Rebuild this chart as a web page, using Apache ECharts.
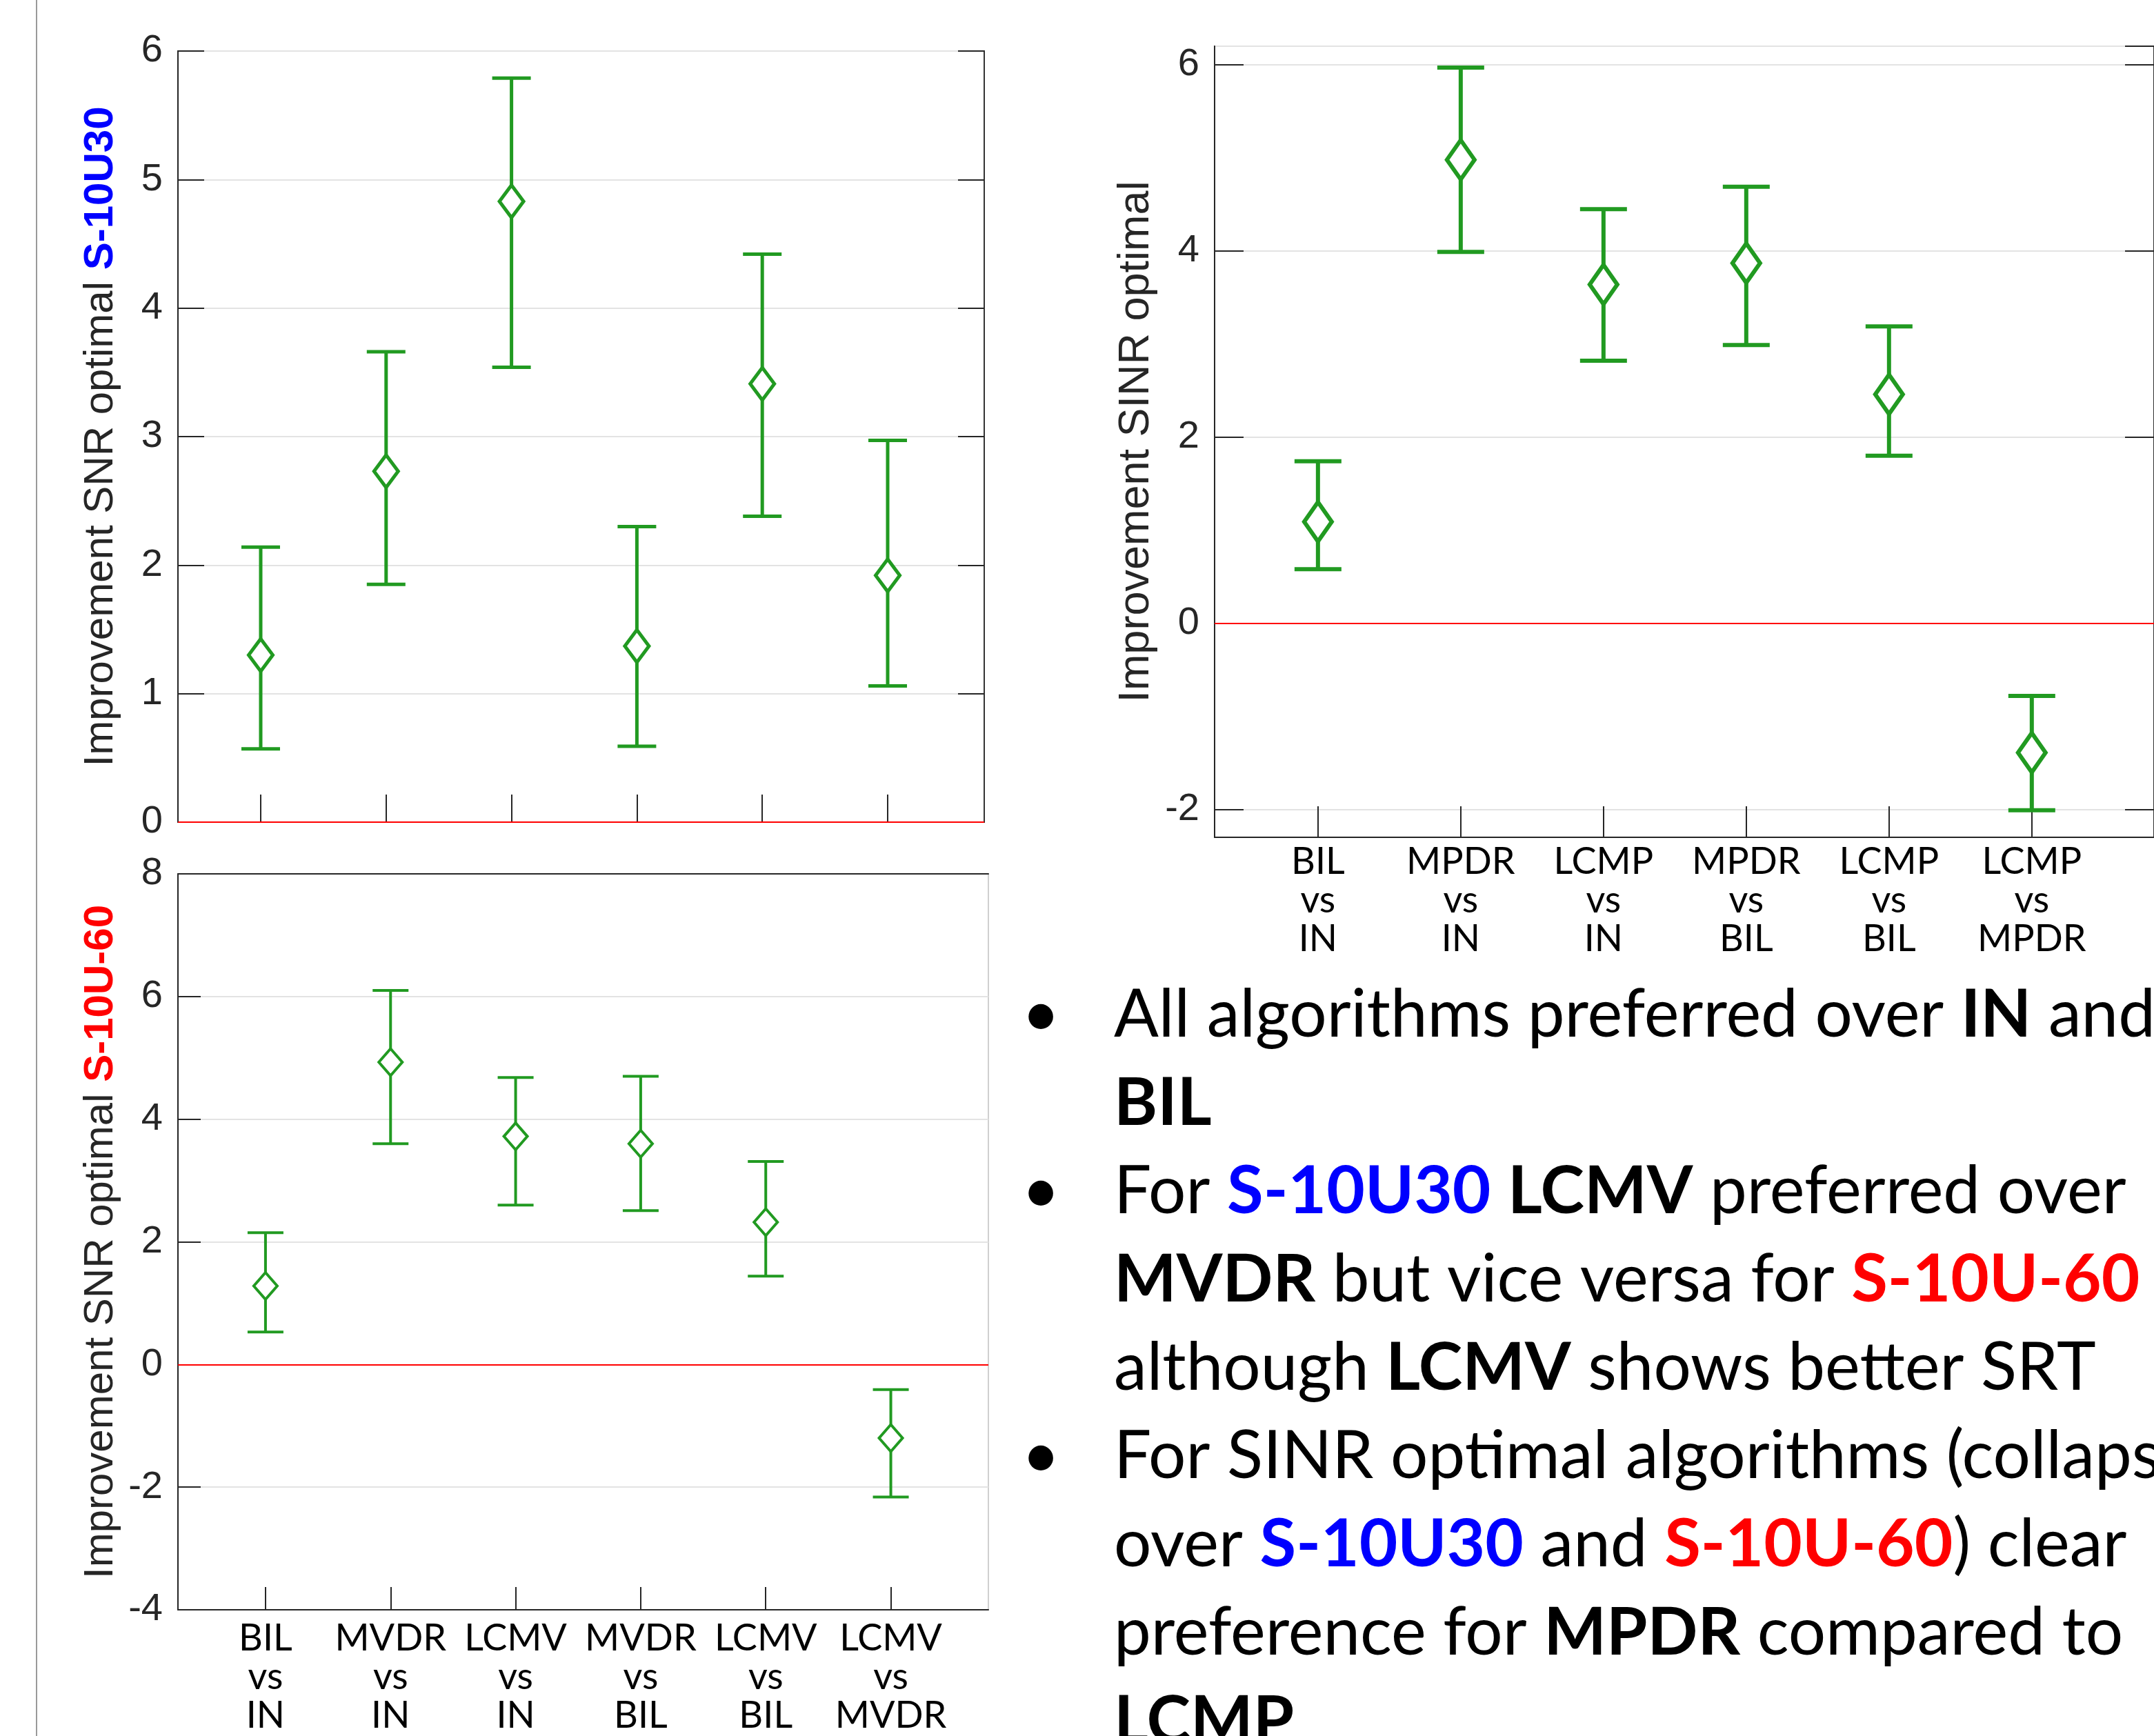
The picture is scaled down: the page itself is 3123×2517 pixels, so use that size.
<!DOCTYPE html>
<html>
<head>
<meta charset="utf-8">
<script src="https://cdn.jsdelivr.net/npm/echarts@6/dist/echarts.min.js"></script>
<style>
  html, body { margin: 0; padding: 0; background: #fff; }
  #chart { width: 3123px; height: 2517px; }
</style>
</head>
<body>
<div id="chart"></div>
<script>
// comparisons on each panel
const snrPairs = ['BIL\nvs\nIN', 'MVDR\nvs\nIN', 'LCMV\nvs\nIN', 'MVDR\nvs\nBIL', 'LCMV\nvs\nBIL', 'LCMV\nvs\nMVDR'];
const sinrPairs = ['BIL\nvs\nIN', 'MPDR\nvs\nIN', 'LCMP\nvs\nIN', 'MPDR\nvs\nBIL', 'LCMP\nvs\nBIL', 'LCMP\nvs\nMPDR'];

// S-10U30, SNR optimal
const s30Mean  = [1.30, 2.73, 4.83, 1.37, 3.41, 1.92];
const s30Lower = [0.57, 1.85, 3.54, 0.59, 2.38, 1.06];
const s30Upper = [2.14, 3.66, 5.79, 2.30, 4.42, 2.97];

// S-10U-60, SNR optimal
const s60Mean  = [1.28, 4.93, 3.72, 3.60, 2.32, -1.20];
const s60Lower = [0.53, 3.60, 2.60, 2.51, 1.44, -2.16];
const s60Upper = [2.15, 6.10, 4.68, 4.70, 3.31, -0.41];

// SINR optimal (collapsed)
const sinrMean  = [1.09, 4.98, 3.64, 3.87, 2.46, -1.39];
const sinrLower = [0.58, 3.99, 2.82, 2.99, 1.80, -2.01];
const sinrUpper = [1.74, 5.97, 4.45, 4.69, 3.19, -0.78];

const GREEN = '#219a21';
const AXIS = '#262626';
const NUMFONT = 'Liberation Sans';

function rows(lower, upper, mean) {
  return mean.map((m, i) => [i, lower[i], upper[i], m]);
}

function errorBars(capHalf, dw, dh, lw) {
  return function (params, api) {
    const x = api.value(0);
    const lo = api.coord([x, api.value(1)]);
    const hi = api.coord([x, api.value(2)]);
    const mid = api.coord([x, api.value(3)]);
    const st = {stroke: GREEN, lineWidth: lw, fill: null};
    return {
      type: 'group',
      children: [
        {type: 'line', shape: {x1: lo[0], y1: lo[1], x2: hi[0], y2: hi[1]}, style: st},
        {type: 'line', shape: {x1: hi[0] - capHalf, y1: hi[1], x2: hi[0] + capHalf, y2: hi[1]}, style: st},
        {type: 'line', shape: {x1: lo[0] - capHalf, y1: lo[1], x2: lo[0] + capHalf, y2: lo[1]}, style: st},
        {type: 'polygon', shape: {points: [
          [mid[0], mid[1] - dh], [mid[0] + dw, mid[1]], [mid[0], mid[1] + dh], [mid[0] - dw, mid[1]]
        ]}, style: {stroke: GREEN, lineWidth: lw, fill: '#fff'}}
      ]
    };
  };
}

function zeroLine() {
  return {
    silent: true,
    symbol: ['none', 'none'],
    label: {show: false},
    lineStyle: {color: '#ff0000', width: 2, type: 'solid'},
    data: [{yAxis: 0}]
  };
}

function xAxisFor(grid, labels, min, max, tickLen, showLabels, margin) {
  const idx = labels.map((_, i) => i);
  return {
    type: 'value', gridIndex: grid, min: min, max: max,
    axisLine: {show: true, onZero: false, lineStyle: {color: AXIS, width: 2}},
    axisTick: {show: true, inside: true, length: tickLen, customValues: idx, lineStyle: {color: AXIS, width: 2}},
    axisLabel: {
      show: showLabels, customValues: idx, margin: margin,
      formatter: v => labels[Math.round(v)],
      fontFamily: 'Lato', fontSize: 54, lineHeight: 56, color: '#000'
    },
    splitLine: {show: false}
  };
}

function yAxisFor(grid, opts) {
  const ax = {
    type: 'value', gridIndex: grid, min: opts.min, max: opts.max,
    axisLine: {show: true, onZero: false, lineStyle: {color: AXIS, width: 2}},
    axisTick: {show: true, inside: true, length: opts.tickLen, lineStyle: {color: AXIS, width: 2}},
    axisLabel: {show: true, margin: 22, fontFamily: NUMFONT, fontSize: 56, color: AXIS,
      showMinLabel: opts.edgeLabels, showMaxLabel: opts.edgeLabels},
    splitLine: {show: true, lineStyle: {color: '#e3e3e3', width: 2}},
    name: opts.name, nameLocation: 'middle', nameGap: opts.nameGap,
    nameTextStyle: {rich: opts.rich}
  };
  if (opts.interval) ax.interval = opts.interval; else ax.splitNumber = 4;
  return ax;
}

function rightTicks(grid, min, max, interval, tickLen) {
  const ax = {
    type: 'value', gridIndex: grid, position: 'right', min: min, max: max,
    axisLine: {show: false, onZero: false},
    axisTick: {show: true, inside: true, length: tickLen, lineStyle: {color: AXIS, width: 2}},
    axisLabel: {show: false},
    splitLine: {show: false}
  };
  if (interval) ax.interval = interval; else ax.splitNumber = 4;
  return ax;
}

const nameRich = (size, color) => ({
  a: {fontFamily: NUMFONT, fontSize: size, color: AXIS},
  b: {fontFamily: NUMFONT, fontSize: size, fontWeight: 'bold', color: color}
});

// bullet text on the right, lower part
const bulletLines = [
  '{n|All algorithms preferred over }{b|IN}{n| and}',
  '{b|BIL}',
  '{n|For }{bl|S-10U30}{n| }{b|LCMV}{n| preferred over}',
  '{b|MVDR}{n| but vice versa for }{rd|S-10U-60}',
  '{n|although }{b|LCMV}{n| shows better SRT}',
  '{n|For SINR optimal algorithms (collapsed}',
  '{n|over }{bl|S-10U30}{n| and }{rd|S-10U-60}{n|) clear}',
  '{n|preference for }{b|MPDR}{n| compared to}',
  '{b|LCMP}'
];
const bulletOn = [0, 2, 5];

const TXT = 'Lato';
const TS = 96;
const textRich = {
  n: {fontFamily: TXT, fontSize: TS, fill: '#000', color: '#000'},
  b: {fontFamily: TXT, fontSize: TS, fontWeight: 'bold', fill: '#000', color: '#000'},
  bl: {fontFamily: TXT, fontSize: TS, fontWeight: 'bold', fill: '#0000ff', color: '#0000ff'},
  rd: {fontFamily: TXT, fontSize: TS, fontWeight: 'bold', fill: '#ff0000', color: '#ff0000'}
};

const graphics = [
  {type: 'line', shape: {x1: 53, y1: 0, x2: 53, y2: 2517}, style: {stroke: '#9a9a9a', lineWidth: 2}, silent: true}
];
bulletLines.forEach((t, i) => {
  const y = 1472 + i * 128;
  graphics.push({type: 'text', x: 1615, y: y, style: {text: t, rich: textRich, verticalAlign: 'middle', align: 'left'}});
  if (bulletOn.includes(i)) {
    graphics.push({type: 'text', x: 1509, y: y, style: {text: '•', fontFamily: TXT, fontSize: TS, fill: '#000', align: 'center', verticalAlign: 'middle'}});
  }
});

const option = {
  backgroundColor: '#fff',
  animation: false,
  grid: [
    {left: 258, top: 74, width: 1169, height: 1118, show: true, borderColor: '#333', borderWidth: 2},
    {left: 258, top: 1267, width: 1175, height: 1067, show: true, borderColor: '#d0d0d0', borderWidth: 2},
    {left: 1761, top: 67, width: 1399, height: 1147, show: true, borderColor: '#333', borderWidth: 2}
  ],
  xAxis: [
    xAxisFor(0, snrPairs, -0.66, 5.77, 40, false, 0),
    xAxisFor(1, snrPairs, -0.70, 5.78, 33, true, 14),
    xAxisFor(2, sinrPairs, -0.724, 5.856, 45, true, 8),
    {type: 'value', gridIndex: 1, position: 'top', min: 0, max: 1,
      axisLine: {show: true, onZero: false, lineStyle: {color: AXIS, width: 2}}, axisTick: {show: false},
      axisLabel: {show: false}, splitLine: {show: false}}
  ],
  yAxis: [
    yAxisFor(0, {min: 0, max: 6, interval: 1, tickLen: 38, edgeLabels: true, nameGap: 82,
      name: '{a|Improvement SNR optimal }{b|S-10U30}', rich: nameRich(60, '#0000ff')}),
    yAxisFor(1, {min: -4, max: 8, interval: 2, tickLen: 33, edgeLabels: true, nameGap: 82,
      name: '{a|Improvement SNR optimal }{b|S-10U-60}', rich: nameRich(60, '#ff0000')}),
    yAxisFor(2, {min: -2.3, max: 6.2, tickLen: 42, edgeLabels: false, nameGap: 82,
      name: '{a|Improvement SINR optimal}', rich: nameRich(63, AXIS)}),
    rightTicks(0, 0, 6, 1, 38),
    rightTicks(2, -2.3, 6.2, null, 42)
  ],
  series: [
    {type: 'custom', xAxisIndex: 0, yAxisIndex: 0, renderItem: errorBars(28, 17.5, 23.5, 5),
      data: rows(s30Lower, s30Upper, s30Mean), markLine: zeroLine(), z: 3},
    {type: 'custom', xAxisIndex: 1, yAxisIndex: 1, renderItem: errorBars(26, 17, 19.5, 4),
      data: rows(s60Lower, s60Upper, s60Mean), markLine: zeroLine(), z: 3},
    {type: 'custom', xAxisIndex: 2, yAxisIndex: 2, renderItem: errorBars(34, 20, 28.5, 6),
      data: rows(sinrLower, sinrUpper, sinrMean), markLine: zeroLine(), z: 3}
  ],
  graphic: graphics
};

const chart = echarts.init(document.getElementById('chart'));
chart.setOption(option);
window.addEventListener('resize', function () {
  chart.resize();
});
</script>
</body>
</html>
